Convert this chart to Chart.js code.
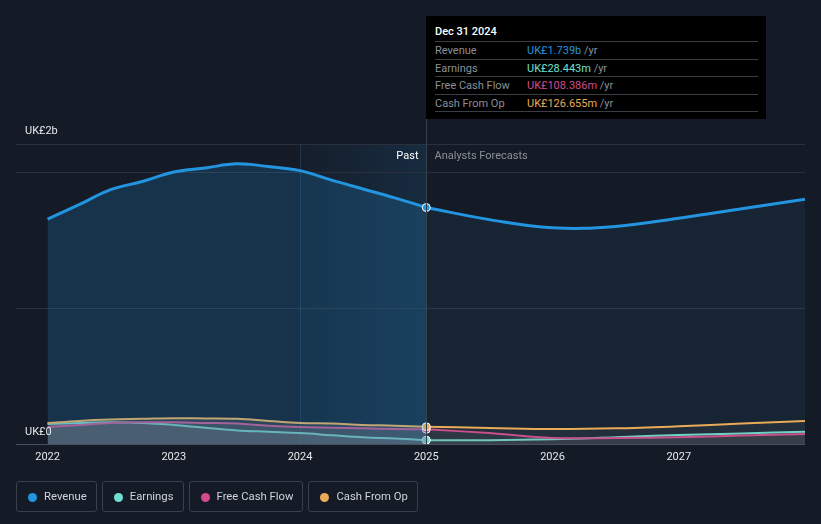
<!DOCTYPE html>
<html>
<head>
<meta charset="utf-8">
<script src="https://cdn.jsdelivr.net/npm/chart.js@4.4.1/dist/chart.umd.min.js"></script>
<style>
  body { margin: 0; background: #151b26; font-family: Roboto, sans-serif; }
  .wrap { position: relative; width: 821px; height: 524px; overflow: hidden; }
  canvas { position: absolute; left: 0; top: 0; }
  .tip { position: absolute; left: 426px; top: 16px; width: 340px; height: 103px; background: #000; font-size: 11px; }
  .tip .title { position: absolute; left: 9px; top: 9px; color: #fff; font-weight: 500; }
  .tip .row { position: absolute; left: 9px; width: 323px; height: 17px; border-top: 1px solid #3a3d44; line-height: 17px; color: #8a8f99; }
  .tip .row .v { position: absolute; left: 92px; top: 0; }
  .tip .row .u { color: #8a8f99; }
  .tip .end { position: absolute; left: 9px; top: 95px; width: 323px; border-top: 1px solid #3a3d44; }
  .legend { position: absolute; left: 16px; top: 481px; display: flex; gap: 5px; }
  .legend .item { border: 1px solid #3a404b; border-radius: 3px; color: #cfd3da; font-size: 11.3px; line-height: 29px; padding: 0 9px 0 27px; position: relative; box-sizing: border-box; height: 31px; }
  .legend .dot { position: absolute; left: 11px; top: 11px; width: 9px; height: 9px; border-radius: 50%; }
</style>
</head>
<body>
<div class="wrap">
  <canvas id="chart" width="821" height="524"></canvas>
  <div class="tip" id="tip"></div>
  <div class="legend" id="legend"></div>
</div>
<script>
// values in UK£ billions, dates as decimal years
const pastDates = [2022.0, 2022.25, 2022.5, 2022.75, 2023.0, 2023.25, 2023.5, 2023.75, 2024.0, 2024.25, 2024.5, 2024.75, 2025.0];
const pastRevenue = [1.654, 1.76, 1.87, 1.93, 2.0, 2.03, 2.06, 2.04, 2.01, 1.94, 1.875, 1.81, 1.739];
const pastEarnings = [0.147, 0.155, 0.16, 0.155, 0.14, 0.12, 0.1, 0.09, 0.08, 0.065, 0.05, 0.04, 0.028443];
const pastFcf = [0.125, 0.14, 0.155, 0.16, 0.16, 0.155, 0.15, 0.135, 0.125, 0.12, 0.115, 0.11, 0.108386];
const pastCfo = [0.154, 0.17, 0.18, 0.185, 0.19, 0.188, 0.185, 0.17, 0.155, 0.15, 0.14, 0.135, 0.126655];

const forecastDates = [2025.0, 2025.5, 2026.0, 2026.5, 2027.0, 2027.5, 2028.0];
const forecastRevenue = [1.739, 1.65, 1.59, 1.6, 1.66, 1.73, 1.8];
const forecastEarnings = [0.028443, 0.028, 0.035, 0.05, 0.066, 0.078, 0.09];
const forecastFcf = [0.108386, 0.08, 0.045, 0.045, 0.05, 0.062, 0.074];
const forecastCfo = [0.126655, 0.118, 0.11, 0.115, 0.13, 0.15, 0.17];

const yearTicks = [2022, 2023, 2024, 2025, 2026, 2027];
const gridValues = [0, 1, 2];

const seriesNames = ['Revenue', 'Earnings', 'Free Cash Flow', 'Cash From Op'];
const seriesColors = ['#2394df', '#6fe0cf', '#d44a8c', '#e9ab58'];
const tipDate = 'Dec 31 2024';

function pts(dates, vals) {
    return dates.map((d, i) => ({ x: d, y: vals[i] }));
}

function lastDot(n) {
    const r = new Array(n).fill(0);
    r[n - 1] = 4;
    return r;
}

function fmt(v) {
    if (v >= 1) return 'UK£' + v.toFixed(3) + 'b';
    return 'UK£' + (v * 1000).toFixed(3) + 'm';
}

const datasets = [];
const pastSmall = [pastCfo, pastFcf, pastEarnings];
const foreSmall = [forecastCfo, forecastFcf, forecastEarnings];
const smallColors = [seriesColors[3], seriesColors[2], seriesColors[1]];
pastSmall.forEach((vals, i) => {
    datasets.push({
        data: pts(pastDates, vals),
        borderColor: smallColors[i],
        backgroundColor: 'rgba(140,130,130,0.22)',
        fill: 'origin',
        borderWidth: 2,
        pointRadius: lastDot(vals.length),
        pointBackgroundColor: smallColors[i],
        pointBorderColor: '#fff',
        pointBorderWidth: 1,
        tension: 0.4,
        order: 2
    });
});
foreSmall.forEach((vals, i) => {
    datasets.push({
        data: pts(forecastDates, vals),
        borderColor: smallColors[i],
        backgroundColor: 'rgba(120,120,125,0.12)',
        fill: 'origin',
        borderWidth: 2,
        pointRadius: 0,
        tension: 0.4,
        order: 3
    });
});
datasets.push({
    data: pts(pastDates, pastRevenue),
    borderColor: seriesColors[0],
    backgroundColor: 'rgba(35,148,223,0.2)',
    fill: 'origin',
    borderWidth: 3,
    pointRadius: lastDot(pastRevenue.length),
    pointBackgroundColor: seriesColors[0],
    pointBorderColor: '#fff',
    pointBorderWidth: 1,
    tension: 0.4,
    order: 1
});
datasets.push({
    data: pts(forecastDates, forecastRevenue),
    borderColor: seriesColors[0],
    backgroundColor: 'rgba(35,148,223,0.08)',
    fill: 'origin',
    borderWidth: 3,
    pointRadius: 0,
    tension: 0.4,
    order: 4
});

const decor = {
    id: 'decor',
    beforeDatasetsDraw(chart) {
        const { ctx, chartArea, scales } = chart;
        const x = scales.x, y = scales.y;
        ctx.save();
        // past highlight band
        const x0 = x.getPixelForValue(2024), x1 = x.getPixelForValue(2025);
        const g = ctx.createLinearGradient(x0, 0, x1, 0);
        g.addColorStop(0, 'rgba(35,148,223,0.03)');
        g.addColorStop(1, 'rgba(35,148,223,0.14)');
        ctx.fillStyle = g;
        ctx.fillRect(x0, chartArea.top, x1 - x0, chartArea.bottom - chartArea.top);
        ctx.strokeStyle = 'rgba(80,110,140,0.3)';
        ctx.lineWidth = 1;
        ctx.beginPath();
        ctx.moveTo(x0 + 0.5, chartArea.top);
        ctx.lineTo(x0 + 0.5, chartArea.bottom);
        ctx.stroke();
        // grid lines
        ctx.strokeStyle = '#2a313c';
        ctx.beginPath();
        ctx.moveTo(chartArea.left, chartArea.top + 0.5);
        ctx.lineTo(chartArea.right, chartArea.top + 0.5);
        gridValues.forEach(v => {
            if (v === 0) return;
            const py = Math.round(y.getPixelForValue(v)) + 0.5;
            ctx.moveTo(chartArea.left, py);
            ctx.lineTo(chartArea.right, py);
        });
        ctx.stroke();
        ctx.restore();
    },
    afterDatasetsDraw(chart) {
        const { ctx, chartArea, scales } = chart;
        const x = scales.x, y = scales.y;
        ctx.save();
        // zero line
        const zy = Math.round(y.getPixelForValue(0)) + 0.5;
        ctx.strokeStyle = '#4a505b';
        ctx.beginPath();
        ctx.moveTo(chartArea.left, zy);
        ctx.lineTo(chartArea.right, zy);
        ctx.stroke();
        // tooltip line
        const tx = Math.round(x.getPixelForValue(2025)) + 0.5;
        ctx.strokeStyle = '#3a414d';
        ctx.beginPath();
        ctx.moveTo(tx, 119);
        ctx.lineTo(tx, zy);
        ctx.stroke();
        // labels
        ctx.font = '11px Roboto, sans-serif';
        ctx.textBaseline = 'middle';
        ctx.fillStyle = '#e6e8eb';
        ctx.textAlign = 'left';
        ctx.fillText('UK£2b', 25, chartArea.top - 13);
        ctx.fillText('UK£0', 25, y.getPixelForValue(0) - 12);
        ctx.textAlign = 'center';
        yearTicks.forEach(t => {
            ctx.fillText(String(t), x.getPixelForValue(t), 457);
        });
        ctx.textAlign = 'right';
        ctx.fillStyle = '#ffffff';
        ctx.fillText('Past', tx - 8, chartArea.top + 12);
        ctx.textAlign = 'left';
        ctx.fillStyle = '#8a8f99';
        ctx.fillText('Analysts Forecasts', tx + 8, chartArea.top + 12);
        ctx.restore();
    }
};

new Chart(document.getElementById('chart').getContext('2d'), {
    type: 'line',
    data: { datasets: datasets },
    options: {
        responsive: false,
        animation: false,
        layout: { padding: { left: 16, right: 16, top: 144, bottom: 80 } },
        plugins: { legend: { display: false }, tooltip: { enabled: false } },
        scales: {
            x: { type: 'linear', min: 2021.75, max: 2028.0, display: false },
            y: { min: 0, max: 2.206, display: false }
        }
    },
    plugins: [decor]
});

// tooltip box
const tip = document.getElementById('tip');
const tipVals = [pastRevenue, pastEarnings, pastFcf, pastCfo].map(a => a[a.length - 1]);
let html = '<div class="title">' + tipDate + '</div>';
seriesNames.forEach((n, i) => {
    html += '<div class="row" style="top:' + (25 + i * 17.5) + 'px">' + n +
        '<span class="v"><span style="color:' + seriesColors[i] + '">' + fmt(tipVals[i]) + '</span> <span class="u">/yr</span></span></div>';
});
html += '<div class="end"></div>';
tip.innerHTML = html;

// legend
const legend = document.getElementById('legend');
seriesNames.forEach((n, i) => {
    const item = document.createElement('div');
    item.className = 'item';
    item.innerHTML = '<span class="dot" style="background:' + seriesColors[i] + '"></span>' + n;
    legend.appendChild(item);
});
</script>
</body>
</html>
